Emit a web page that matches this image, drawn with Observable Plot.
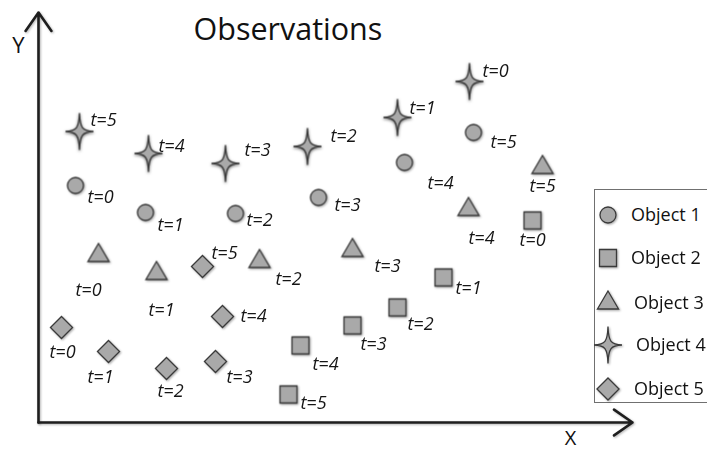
<!DOCTYPE html>
<html>
<head>
<meta charset="utf-8">
<script src="https://cdn.jsdelivr.net/npm/d3@7"></script>
<script src="https://cdn.jsdelivr.net/npm/@observablehq/plot@0.6"></script>
<style>
  html, body { margin: 0; padding: 0; background: #fff; }
  #wrap { position: relative; width: 707px; height: 451px; overflow: hidden; font-family: "Open Sans", sans-serif; }
  #legend { position: absolute; left: 594px; top: 189px; width: 130px; height: 212px; border: 1.5px solid #707070; background: #fff; }
  .item { position: absolute; left: 0; height: 30px; width: 130px; }
  .item svg { position: absolute; left: 0; top: 0; overflow: visible; }
  .item span { position: absolute; font-size: 18px; color: #111; line-height: 22px; top: 3px; white-space: nowrap; }
</style>
</head>
<body>
<div id="wrap"></div>
<script>
// ---- data (x,y in the chart's own units; origin at the axes' corner) ----
const times = [0, 1, 2, 3, 4, 5];
const objectNames = ["Object 1", "Object 2", "Object 3", "Object 4", "Object 5"];
const xDomain = [0, 594];
const yDomain = [0, 410];

const object1 = [[37,237],[107,210],[197,209],[280,225],[366,260],[435,290]];
const object1Labels = [[62,225],[132,197],[221,202],[309,217],[402,239],[465,280]];

const object2 = [[494,202],[405,145],[359,115],[314,97],[262,77],[250,28]];
const object2Labels = [[494,182],[430,134],[382,98],[335,78],[287,58],[275,19]];

const object3 = [[60,167],[118,149],[221,161],[314,172],[430,213],[504,255]];
const object3Labels = [[50,132],[123,112],[250,143],[349,156],[443,184],[504,236]];

const object4 = [[431,341],[359,305],[269,276],[187,259],[110,269],[41,291]];
const object4Labels = [[457,351],[384,314],[305,286],[219,272],[133,276],[65,302]];

const object5 = [[23,95],[70,71],[128,54],[177,61],[184,106],[164,156]];
const object5Labels = [[24,70],[62,45],[132,31],[201,45],[215,106],[186,169]];

// ---- custom symbols ----
const kOf = size => Math.sqrt(size / Math.PI);
const circleSym = { draw(c, s) { const r = kOf(s); c.moveTo(r, 0); c.arc(0, 0, r, 0, 2 * Math.PI); c.closePath(); } };
const squareSym = { draw(c, s) { const h = kOf(s) * 1.06; c.rect(-h, -h, 2 * h, 2 * h); } };
const triangleSym = { draw(c, s) { const k = kOf(s); c.moveTo(0, -k * 1.5); c.lineTo(k * 1.32, k * 0.75); c.lineTo(-k * 1.32, k * 0.75); c.closePath(); } };
const starSym = { draw(c, s) {
  const k = kOf(s), a = k * 1.75, b = k * 2.3, n = k * 0.06, f = k * 0.38;
  c.moveTo(0, -b);
  c.bezierCurveTo(n, -f, f, -n, a, 0);
  c.bezierCurveTo(f, n, n, f, 0, b);
  c.bezierCurveTo(-n, f, -f, n, -a, 0);
  c.bezierCurveTo(-f, -n, -n, -f, 0, -b);
  c.closePath();
} };
const diamondSym = { draw(c, s) { const h = kOf(s) * 1.38; c.moveTo(0, -h); c.lineTo(h, 0); c.lineTo(0, h); c.lineTo(-h, 0); c.closePath(); } };

const series = [
  { pts: object1, labels: object1Labels, sym: circleSym },
  { pts: object2, labels: object2Labels, sym: squareSym },
  { pts: object3, labels: object3Labels, sym: triangleSym },
  { pts: object4, labels: object4Labels, sym: starSym },
  { pts: object5, labels: object5Labels, sym: diamondSym }
];

const FILL = "#a9a9a9", STROKE = "#3a3a3a", R = 8;

const marks = [];
marks.push(Plot.arrow([{}], {
  x1: () => xDomain[0], y1: () => yDomain[0], x2: () => xDomain[0], y2: () => yDomain[1],
  stroke: "#1e1e1e", strokeWidth: 2.6, headLength: 13, headAngle: 70
}));
marks.push(Plot.arrow([{}], {
  x1: () => xDomain[0], y1: () => yDomain[0], x2: () => xDomain[1], y2: () => yDomain[0],
  stroke: "#1e1e1e", strokeWidth: 2.6, headLength: 13, headAngle: 70
}));
for (const s of series) {
  marks.push(Plot.dot(s.pts, { x: d => d[0], y: d => d[1], r: R, symbol: s.sym, fill: FILL, stroke: STROKE, strokeWidth: 1.3 }));
}
for (const s of series) {
  const lab = s.labels.map((d, j) => ({ x: d[0], y: d[1], t: "t=" + times[j] }));
  marks.push(Plot.text(lab, { x: "x", y: "y", text: "t", fontStyle: "italic", fontSize: 18, fontFamily: "Open Sans", fill: "#151515" }));
}
marks.push(Plot.text(["Observations"], { frameAnchor: "top-left", text: d => d, dx: 155, dy: 6, lineAnchor: "top", textAnchor: "start", fontSize: 30.5, fontFamily: "Open Sans", fill: "#111" }));
marks.push(Plot.text(["Y"], { frameAnchor: "top-left", text: d => d, dx: -20, dy: 25, lineAnchor: "top", textAnchor: "middle", fontSize: 22, fontFamily: "Open Sans", fill: "#111" }));
marks.push(Plot.text(["X"], { frameAnchor: "bottom-left", text: d => d, dx: 532, dy: 8, lineAnchor: "top", textAnchor: "middle", fontSize: 20, fontFamily: "Open Sans", fill: "#111" }));

const chart = Plot.plot({
  width: 707, height: 451,
  marginLeft: 38, marginRight: 75, marginTop: 12, marginBottom: 29,
  x: { domain: xDomain, axis: null },
  y: { domain: yDomain, axis: null },
  style: { overflow: "visible", background: "#fff" },
  marks
});
document.getElementById("wrap").appendChild(chart);

// drop shadows like the reference
d3.select(chart).selectAll('g[aria-label="dot"]').each(function (_, i) {
  d3.select(this).attr("style", i === 3
    ? "filter: drop-shadow(0.5px 1px 1.8px rgba(0,0,0,0.6))"
    : "filter: drop-shadow(1px 1.5px 1.2px rgba(0,0,0,0.35))");
});
d3.select(chart).selectAll('g[aria-label="arrow"]').attr("style", "filter: drop-shadow(1px 1px 1px rgba(0,0,0,0.3))");

// ---- legend ----
const legendRows = [25, 68, 113, 155, 199];
const legendTextX = [36, 36, 39, 41, 39];
const legend = document.createElement("div");
legend.id = "legend";
series.forEach((s, i) => {
  const item = document.createElement("div");
  item.className = "item";
  item.style.top = (legendRows[i] - 15) + "px";
  const p = d3.path();
  s.sym.draw(p, R * R * Math.PI);
  item.innerHTML = `<svg width="1" height="1"><path transform="translate(13,15)" d="${p.toString()}" fill="${FILL}" stroke="${STROKE}" stroke-width="1.3" style="filter: drop-shadow(1px 1.5px 1.2px rgba(0,0,0,0.35))"/></svg><span style="left:${legendTextX[i]}px">${objectNames[i]}</span>`;
  legend.appendChild(item);
});
document.getElementById("wrap").appendChild(legend);
</script>
</body>
</html>
